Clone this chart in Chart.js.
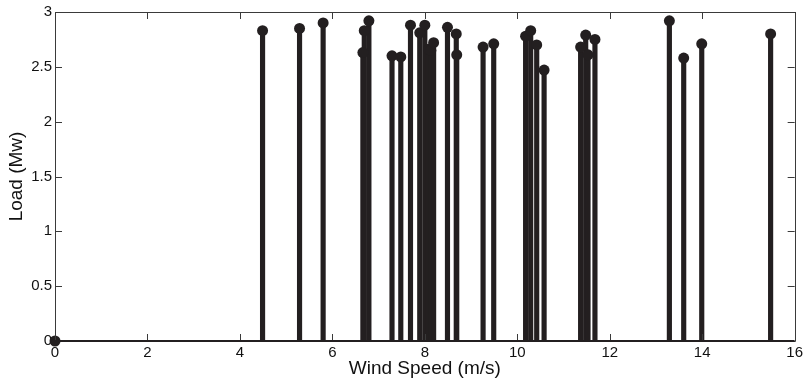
<!DOCTYPE html>
<html>
<head>
<meta charset="utf-8">
<script src="https://cdn.jsdelivr.net/npm/chart.js@4/dist/chart.umd.min.js"></script>
<style>
  html, body { margin: 0; padding: 0; background: #fff; }
</style>
</head>
<body>
<canvas id="stemChart" width="806" height="385"></canvas>
<script>
// wind speed (m/s) and load (Mw)
var windSpeed = [0, 4.49, 5.29, 5.80, 6.66, 6.69, 6.79, 7.29, 7.48, 7.69, 7.89, 8.00, 8.08, 8.13, 8.19,
                 8.49, 8.68, 8.69, 9.26, 9.49, 10.18, 10.29, 10.42, 10.58, 11.37, 11.48, 11.53, 11.68,
                 13.29, 13.60, 13.99, 15.48];
var load = [0, 2.83, 2.85, 2.90, 2.63, 2.83, 2.92, 2.60, 2.59, 2.88, 2.81, 2.88, 2.66, 2.65, 2.72,
            2.86, 2.80, 2.61, 2.68, 2.71, 2.78, 2.83, 2.70, 2.47, 2.68, 2.79, 2.61, 2.75,
            2.92, 2.58, 2.71, 2.80];

var xTitle = 'Wind Speed (m/s)';
var yTitle = 'Load (Mw)';

var ink = '#231f20';
var frameColor = '#3a3a3a';

var points = windSpeed.map(function(x, i) { return {x: x, y: load[i]}; });

// plain number labels like matlab: 3, 2.5, 2 ...
function plainLabel(v) { return String(+Number(v).toFixed(2)); }

// matlab style box with inward ticks and the stem baseline
var boxPlugin = {
    id: 'matlabBox',
    afterDatasetsDraw: function(chart) {
        var ctx = chart.ctx;
        var a = chart.chartArea;
        var xs = chart.scales.x, ys = chart.scales.y;
        var tl = 7;
        ctx.save();
        ctx.strokeStyle = frameColor;
        ctx.lineWidth = 1;
        ctx.beginPath();
        ctx.rect(Math.round(a.left) + 0.5, Math.round(a.top) + 0.5,
                 Math.round(a.right - a.left), Math.round(a.bottom - a.top));
        ctx.stroke();
        ctx.beginPath();
        xs.ticks.forEach(function(t) {
            var px = Math.round(xs.getPixelForValue(t.value)) + 0.5;
            ctx.moveTo(px, a.bottom); ctx.lineTo(px, a.bottom - tl);
            ctx.moveTo(px, a.top); ctx.lineTo(px, a.top + tl);
        });
        ys.ticks.forEach(function(t) {
            var py = Math.round(ys.getPixelForValue(t.value)) + 0.5;
            ctx.moveTo(a.left, py); ctx.lineTo(a.left + tl, py);
            ctx.moveTo(a.right, py); ctx.lineTo(a.right - tl, py);
        });
        ctx.stroke();
        // baseline of the stems
        var y0 = ys.getPixelForValue(0);
        ctx.strokeStyle = ink;
        ctx.lineWidth = 2;
        ctx.beginPath();
        ctx.moveTo(a.left, y0); ctx.lineTo(a.right, y0);
        ctx.stroke();
        ctx.restore();
    }
};

var ctx = document.getElementById('stemChart').getContext('2d');
var chart = new Chart(ctx, {
    data: {
        datasets: [{
            type: 'scatter',
            data: points,
            pointRadius: 5.5,
            pointHoverRadius: 5.5,
            pointBackgroundColor: ink,
            pointBorderWidth: 0,
            clip: false,
            order: 0
        }, {
            type: 'bar',
            data: points,
            backgroundColor: ink,
            barThickness: 4.5,
            grouped: false,
            order: 1
        }]
    },
    options: {
        responsive: false,
        animation: false,
        layout: { padding: { top: 10, right: 11, bottom: 0, left: 0 } },
        plugins: { legend: { display: false }, tooltip: { enabled: false } },
        scales: {
            x: {
                type: 'linear',
                min: 0, max: 16,
                offset: false,
                grid: { display: false, drawTicks: false },
                border: { display: false },
                ticks: { stepSize: 2, padding: 3, color: '#111', maxRotation: 0, callback: plainLabel,
                         font: { family: 'Liberation Sans', size: 15 } },
                title: { display: true, text: xTitle, color: '#111', padding: { top: 5, bottom: 5 },
                         font: { family: 'Liberation Sans', size: 19 } },
                afterFit: function(scale) { scale.height = 44; }
            },
            y: {
                type: 'linear',
                min: 0, max: 3,
                grid: { display: false, drawTicks: false },
                border: { display: false },
                ticks: { stepSize: 0.5, padding: 3, color: '#111', callback: plainLabel,
                         font: { family: 'Liberation Sans', size: 15 } },
                title: { display: true, text: yTitle, color: '#111', padding: { top: 5, bottom: 5 },
                         font: { family: 'Liberation Sans', size: 19 } },
                afterFit: function(scale) { scale.width = 55; }
            }
        }
    },
    plugins: [boxPlugin]
});
</script>
</body>
</html>
